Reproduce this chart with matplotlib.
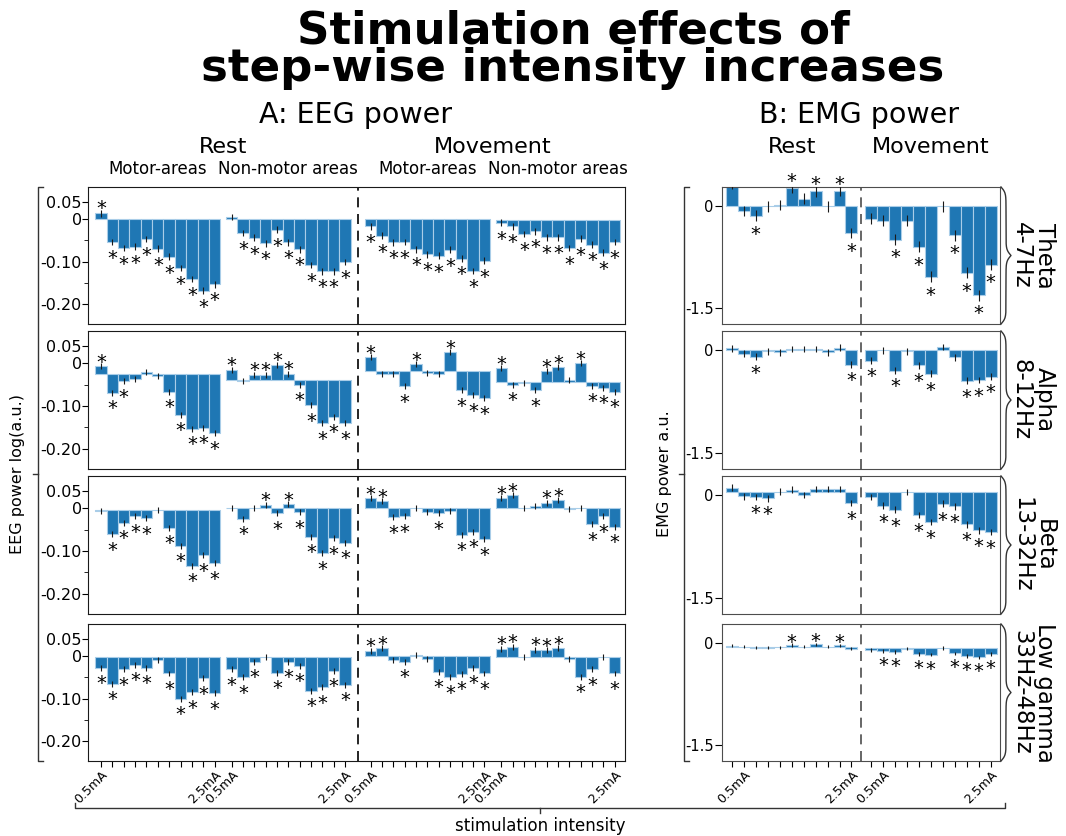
import numpy as np
import matplotlib.pyplot as plt
from matplotlib.lines import Line2D
from matplotlib.transforms import blended_transform_factory

# 11 stimulation steps per block
steps = np.arange(11)
eeg_step_labels = ["0.5mA"] + [""] * 9 + ["2.5mA"]
emg_step_labels = ["", "0.5mA"] + [""] * 8 + ["2.5mA"]

band_names = ["Theta\n4-7Hz", "Alpha\n8-12Hz", "Beta\n13-32Hz", "Low gamma\n33Hz-48Hz"]

# EEG blocks: rest/motor, rest/non-motor, movement/motor, movement/non-motor
eeg_theta = [
    [0.014, -0.054, -0.068, -0.065, -0.047, -0.070, -0.089, -0.115, -0.141, -0.169, -0.154],
    [0.005, -0.033, -0.044, -0.057, -0.025, -0.055, -0.071, -0.108, -0.123, -0.123, -0.101],
    [-0.017, -0.039, -0.055, -0.054, -0.071, -0.083, -0.086, -0.072, -0.093, -0.122, -0.098],
    [-0.009, -0.017, -0.035, -0.029, -0.043, -0.043, -0.068, -0.046, -0.060, -0.079, -0.054],
]
eeg_theta_base = [0.0, 0.0, 0.0, -0.002]
eeg_theta_sig = ["11111111111", "01111111111", "11111111111", "11111111111"]

eeg_alpha = [
    [-0.007, -0.069, -0.042, -0.037, -0.020, -0.029, -0.067, -0.120, -0.153, -0.151, -0.164],
    [-0.015, -0.041, -0.027, -0.027, -0.003, -0.024, -0.050, -0.098, -0.140, -0.125, -0.140],
    [0.014, -0.024, -0.024, -0.054, -0.002, -0.022, -0.024, 0.026, -0.063, -0.075, -0.082],
    [-0.012, -0.050, -0.046, -0.063, -0.018, -0.009, -0.038, 0.000, -0.052, -0.057, -0.066],
]
eeg_alpha_base = [-0.024, -0.039, -0.017, -0.043]
eeg_alpha_sig = ["11100011111", "10111111111", "10011001111", "11011101111"]

eeg_beta = [
    [-0.006, -0.061, -0.034, -0.019, -0.023, -0.003, -0.046, -0.087, -0.134, -0.110, -0.128],
    [0.000, -0.024, 0.000, 0.008, -0.012, 0.009, -0.009, -0.067, -0.105, -0.070, -0.081],
    [0.024, 0.017, -0.021, -0.018, 0.000, -0.009, -0.012, -0.006, -0.062, -0.055, -0.072],
    [0.023, 0.030, 0.000, 0.005, 0.013, 0.019, -0.002, 0.000, -0.037, -0.018, -0.043],
]
eeg_beta_base = [-0.003, 0.0, 0.0, 0.0]
eeg_beta_sig = ["01111011111", "01011111111", "11110010111", "11001100111"]

eeg_gamma = [
    [-0.028, -0.065, -0.031, -0.020, -0.027, -0.009, -0.041, -0.100, -0.085, -0.052, -0.087],
    [-0.031, -0.050, -0.013, -0.002, -0.039, -0.013, -0.023, -0.082, -0.073, -0.035, -0.067],
    [0.013, 0.018, -0.009, -0.013, 0.003, -0.007, -0.037, -0.050, -0.042, -0.028, -0.041],
    [0.017, 0.022, -0.002, 0.015, 0.014, 0.019, -0.007, -0.049, -0.031, -0.002, -0.041],
]
eeg_gamma_base = [-0.002, -0.002, 0.0, -0.002]
eeg_gamma_sig = ["11111011111", "11101111111", "11010011111", "11011101101"]

# EMG blocks: rest, movement
emg_theta = [
    [0.330, -0.069, -0.138, 0.000, 0.020, 0.275, 0.113, 0.221, 0.000, 0.226, -0.394],
    [-0.182, -0.216, -0.492, -0.216, -0.600, -1.043, 0.000, -0.428, -0.984, -1.313, -0.861],
]
emg_theta_base = [0.0, 0.0]
emg_theta_sig = ["00100101011", "00101101111"]

emg_alpha = [
    [0.030, -0.050, -0.094, -0.010, -0.030, 0.020, 0.020, 0.020, -0.030, 0.040, -0.207],
    [-0.148, 0.000, -0.295, -0.010, -0.216, -0.344, 0.050, -0.098, -0.443, -0.433, -0.384],
]
emg_alpha_base = [0.0, 0.0]
emg_alpha_sig = ["00100000001", "10101100111"]

emg_beta = [
    [0.112, -0.015, -0.024, -0.044, 0.054, 0.083, 0.005, 0.093, 0.093, 0.093, -0.112],
    [-0.024, -0.151, -0.210, 0.049, -0.288, -0.391, -0.122, -0.161, -0.425, -0.513, -0.537],
]
emg_beta_base = [0.044, 0.044]
emg_beta_sig = ["00110000001", "01101111111"]

emg_gamma = [
    [-0.034, -0.049, -0.064, -0.064, -0.059, -0.025, -0.049, -0.015, -0.049, -0.030, -0.079],
    [-0.098, -0.113, -0.128, -0.079, -0.157, -0.167, -0.069, -0.148, -0.187, -0.207, -0.157],
]
emg_gamma_base = [-0.059, -0.064]
emg_gamma_sig = ["00000101010", "01101101111"]

eeg_err = [0.008, 0.007, 0.007, 0.007]
emg_err = [0.08, 0.05, 0.05, 0.025]

eeg_rows = [
    (eeg_theta, eeg_theta_base, eeg_theta_sig),
    (eeg_alpha, eeg_alpha_base, eeg_alpha_sig),
    (eeg_beta, eeg_beta_base, eeg_beta_sig),
    (eeg_gamma, eeg_gamma_base, eeg_gamma_sig),
]
emg_rows = [
    (emg_theta, emg_theta_base, emg_theta_sig),
    (emg_alpha, emg_alpha_base, emg_alpha_sig),
    (emg_beta, emg_beta_base, emg_beta_sig),
    (emg_gamma, emg_gamma_base, emg_gamma_sig),
]

W, H = 1066, 836
fig = plt.figure(figsize=(W / 100, H / 100), dpi=100)


def fx(px):
    return px / W


def fy(py):
    return 1 - py / H


bar_color = "#1f77b4"
edge_color = "#a9cde8"

# layout in pixels
rows_px = [(187, 324), (331, 469), (476, 614), (624, 761)]
eeg_px = (88, 625)
emg_px = (722, 1000)

eeg_offsets = [0, 11.5, 23.75, 35.25]
eeg_split = 22.6
eeg_xlim = (-1.15, 46.15)
emg_offsets = [0, 11.62]
emg_split = 10.81
emg_xlim = (-0.81, 22.4)


def draw_panel(ax, offsets, groups, bases, sigs, err):
    for off, vals, base, sig in zip(offsets, groups, bases, sigs):
        x = off + steps
        vals = np.asarray(vals)
        ax.bar(x, vals - base, bottom=base, width=1.0, color=bar_color,
               edgecolor=edge_color, linewidth=0.8, zorder=2)
        ax.errorbar(x, vals, yerr=err, fmt="none", ecolor="0.1",
                    elinewidth=0.8, capsize=0, zorder=3)
        for xi, v, s in zip(x, vals, sig):
            if s != "1":
                continue
            up = v > base
            y = v + err if up else v - err
            ax.annotate("*", (xi, y), xytext=(0, -4.5 if up else -18.5),
                        textcoords="offset pixels", ha="center", va="baseline",
                        fontsize=14, annotation_clip=False, zorder=4)


def make_axes(xpx, ypx):
    return fig.add_axes([fx(xpx[0]), fy(ypx[1]), fx(xpx[1]) - fx(xpx[0]),
                         (ypx[1] - ypx[0]) / H])


eeg_axes, emg_axes = [], []
for r, ypx in enumerate(rows_px):
    # EEG panel
    ax = make_axes(eeg_px, ypx)
    groups, bases, sigs = eeg_rows[r]
    draw_panel(ax, eeg_offsets, groups, bases, sigs, eeg_err[r])
    ax.axvline(eeg_split, color="k", lw=1.2, ls=(0, (6, 4)), zorder=1)
    ax.set_xlim(*eeg_xlim)
    ax.set_ylim(-0.247, 0.0755)
    ax.set_yticks([0.04, 0, -0.1, -0.2])
    ax.set_yticklabels(["0.05", "0", "-0.10", "-0.20"], fontsize=11.5)
    ax.set_yticks([-0.05, -0.15], minor=True)
    ax.tick_params(axis="y", which="major", length=4, pad=0.5)
    ax.tick_params(axis="y", which="minor", length=3)
    for sp in ax.spines.values():
        sp.set_color("0.1")
    eeg_axes.append(ax)

    # EMG panel
    ax2 = make_axes(emg_px, ypx)
    groups, bases, sigs = emg_rows[r]
    draw_panel(ax2, emg_offsets, groups, bases, sigs, emg_err[r])
    ax2.axvline(emg_split, color="0.3", lw=1.2, ls=(0, (6, 4)), zorder=1)
    ax2.set_xlim(*emg_xlim)
    ax2.set_ylim(-1.74, 0.285)
    ax2.set_yticks([0, -1.5])
    ax2.set_yticklabels(["0", "-1.5"], fontsize=10.5)
    ax2.tick_params(axis="y", length=5, pad=1)
    for sp in ax2.spines.values():
        sp.set_color("0.3")
    emg_axes.append(ax2)

    last = r == len(rows_px) - 1
    for a, offs, labels in ((ax, eeg_offsets, eeg_step_labels),
                            (ax2, emg_offsets, emg_step_labels)):
        if last:
            ticks = np.concatenate([o + steps for o in offs])
            a.set_xticks(ticks)
            a.set_xticklabels(labels * len(offs), rotation=45, ha="right",
                              va="top", rotation_mode="anchor", fontsize=9)
            a.tick_params(axis="x", length=4, pad=1.5)
        else:
            a.set_xticks([])


def fig_line(xs, ys, color="0.2"):
    fig.add_artist(Line2D([fx(v) for v in xs], [fy(v) for v in ys],
                          color=color, lw=1))


# brackets around the axes blocks
fig_line([43, 38, 38, 43], [187, 187, 761, 761])
fig_line([33, 38], [474, 474])
fig_line([689, 684, 684, 689], [187, 187, 761, 761])
fig_line([679, 684], [474, 474])
fig_line([75, 75, 1005, 1005], [803, 808, 808, 803])
fig_line([540, 540], [808, 813])

fig.text(fx(18), fy(474), "EEG power log(a.u.)", rotation=90, ha="center",
         va="center", fontsize=11.5)
fig.text(fx(665), fy(474), "EMG power a.u.", rotation=90, ha="center",
         va="center", fontsize=11.5)
fig.text(fx(540), fy(826), "stimulation intensity", ha="center", va="center",
         fontsize=12)


# curly braces with band names next to the EMG panels
def curly_brace(y0, y1, x0, width):
    n = 201
    t = np.linspace(0, (y1 - y0) / 2, n // 2 + 1)
    beta = 0.35
    half = 1 / (1 + np.exp(-beta * (t - t[0]))) + 1 / (1 + np.exp(-beta * (t - t[-1])))
    shape = np.concatenate([half, half[-2::-1]])
    ys = np.linspace(y0, y1, len(shape))
    xs = x0 + width * (shape - 0.5)
    fig.add_artist(Line2D([fx(v) for v in xs], [fy(v) for v in ys],
                          color="0.2", lw=1))


for (y0, y1), name in zip(rows_px, band_names):
    curly_brace(y0, y1, 1001, 10)
    fig.text(fx(1033), fy((y0 + y1) / 2), name, rotation=270, ha="center",
             va="center", fontsize=16.5, linespacing=1.0, multialignment="center")

# headings
fig.text(fx(573), fy(10), "Stimulation effects of\nstep-wise intensity increases",
         ha="center", va="top", fontsize=32.5, fontweight="bold", linespacing=0.81)
fig.text(fx(356), fy(123), "A: EEG power", ha="center", va="baseline", fontsize=20.5)
fig.text(fx(859), fy(123), "B: EMG power", ha="center", va="baseline", fontsize=20.5)

tr_eeg = blended_transform_factory(eeg_axes[0].transData, fig.transFigure)
tr_emg = blended_transform_factory(emg_axes[0].transData, fig.transFigure)

cond_names = ["Rest", "Movement"]
area_names = ["Motor-areas", "Non-motor areas"]
for i, cond in enumerate(cond_names):
    left = eeg_offsets[2 * i]
    right = eeg_offsets[2 * i + 1] + steps[-1]
    fig.text((left + right) / 2, fy(153), cond, transform=tr_eeg, ha="center",
             va="baseline", fontsize=16)
    fig.text(emg_offsets[i] + steps[-1] / 2, fy(153), cond, transform=tr_emg,
             ha="center", va="baseline", fontsize=16)
    for j, area in enumerate(area_names):
        fig.text(eeg_offsets[2 * i + j] + steps[-1] / 2, fy(174), area,
                 transform=tr_eeg, ha="center", va="baseline", fontsize=12)

fig.savefig("out.png", dpi=100)
